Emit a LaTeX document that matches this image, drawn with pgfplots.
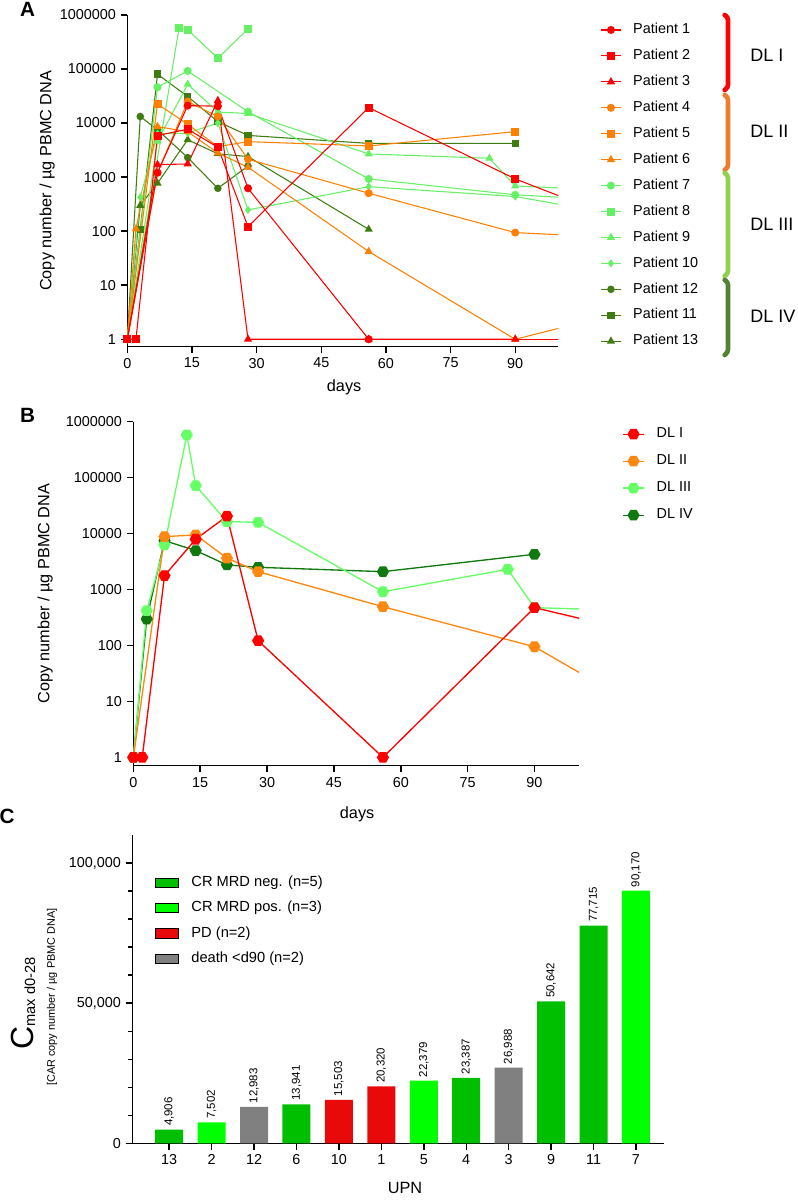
\documentclass[border=0pt]{standalone}
\usepackage{fontspec}
\setmainfont{Liberation Sans}
\usepackage{pgfplots}
\pgfplotsset{compat=1.18}

\definecolor{cRed}{RGB}{255,0,0}
\definecolor{cOra}{RGB}{255,128,0}
\definecolor{cLgr}{RGB}{102,240,102}
\definecolor{cDgr}{RGB}{63,125,18}
\definecolor{bRed}{RGB}{255,0,0}
\definecolor{bOra}{RGB}{255,136,17}
\definecolor{bLgr}{RGB}{102,255,102}
\definecolor{bDgr}{RGB}{15,120,15}
\definecolor{kI}{RGB}{255,0,0}
\definecolor{kII}{RGB}{237,125,49}
\definecolor{kIII}{RGB}{146,208,80}
\definecolor{kIV}{RGB}{84,130,53}
\definecolor{barNeg}{RGB}{0,190,0}
\definecolor{barPos}{RGB}{0,255,0}
\definecolor{barPD}{RGB}{232,10,10}
\definecolor{barDth}{RGB}{128,128,128}

\pgfdeclareplotmark{hexagon*}{%
  \pgfpathmoveto{\pgfpointpolar{0}{\pgfplotmarksize}}%
  \pgfpathlineto{\pgfpointpolar{60}{\pgfplotmarksize}}%
  \pgfpathlineto{\pgfpointpolar{120}{\pgfplotmarksize}}%
  \pgfpathlineto{\pgfpointpolar{180}{\pgfplotmarksize}}%
  \pgfpathlineto{\pgfpointpolar{240}{\pgfplotmarksize}}%
  \pgfpathlineto{\pgfpointpolar{300}{\pgfplotmarksize}}%
  \pgfpathclose
  \pgfusepathqfillstroke}

\pgfplotsset{
  myax/.style={
    scale only axis, anchor=south west, enlargelimits=false,
    axis x line*=bottom, axis y line*=left,
    axis line style={-, line width=1.1pt, black},
    tick align=outside, major tick length=5pt, minor tick length=3pt,
    major tick style={line width=1.1pt, black},
    minor tick style={line width=1.1pt, black},
    tick label style={font=\fontsize{10.8}{13}\selectfont},
    label style={font=\fontsize{12.2}{14}\selectfont},
  },
  pa/.style={color=#1, line width=0.8pt},
  pb/.style={color=#1, line width=1pt, mark=hexagon*, mark size=4pt},
}

\begin{document}
\begin{tikzpicture}
\useasboundingbox (0,0) rectangle (597.75pt,900pt);

% ---------------- A ----------------
\begin{axis}[myax, at={(95.5pt,640pt)}, width=323.25pt, height=248.8pt,
  ymode=log, xmin=0, xmax=100, ymin=0.73, ymax=1000000,
  yminorticks=false,
  xtick={0,15,30,45,60,75,90}, xticklabels={0,15,30,45,60,75,90},
  ytick={1,10,100,1000,10000,100000,1000000},
  yticklabels={1,10,100,1000,10000,100000,1000000},
  xlabel={days}, ylabel={Copy number / µg PBMC DNA},
  x label style={at={(axis description cs:0.503,-0.1215)}, anchor=center},
  y label style={at={(axis description cs:-0.186,0.5)}, anchor=center},
  reverse legend, legend cell align=left,
  legend image code/.code={\draw[mark repeat=2,mark phase=2,#1] plot coordinates {(0pt,0pt) (7.5pt,0pt) (15pt,0pt)};},
  legend style={at={(axis description cs:1.097,0.9755)}, anchor=north west,
    draw=none, fill=none, inner sep=0pt, font=\fontsize{10.8}{13}\selectfont,
    row sep=9.45pt, nodes={inner sep=0pt, text height=7.8pt, text depth=2.2pt},
    /tikz/every odd column/.append style={column sep=8.8pt}},
]
\addplot[pa=cDgr, mark=triangle*, mark size=2.8pt] coordinates {(0,1) (3,300) (7,770) (14,4900) (21,2700) (28,2400) (56,108)};
\addlegendentry{Patient 13}
\addplot[pa=cDgr, mark=square*, mark size=2.4pt] coordinates {(0,1) (3,108) (7,80000) (14,31000) (21,10600) (28,5900) (56,4200) (90,4200)};
\addlegendentry{Patient 11}
\addplot[pa=cDgr, mark=*, mark size=2.4pt] coordinates {(0,1) (3,13200) (7,7500) (14,2300) (21,620) (28,1600)};
\addlegendentry{Patient 12}
\addplot[pa=cLgr, mark=diamond*, mark size=2.4pt] coordinates {(0,1) (3,425) (7,6300) (14,6500) (21,10000) (28,247) (56,665) (90,437)};
\addlegendentry{Patient 10}
\addplot[pa=cLgr, forget plot] coordinates {(90,437) (120,166)};
\addplot[pa=cLgr, mark=triangle*, mark size=2.8pt] coordinates {(0,1) (7,4600) (14,52000) (21,16000) (28,15000) (56,2680) (84,2230) (90,686)};
\addlegendentry{Patient 9}
\addplot[pa=cLgr, forget plot] coordinates {(90,686) (120,535)};
\addplot[pa=cLgr, mark=square*, mark size=2.6pt] coordinates {(0,1) (12,570000) (14,530000) (21,158000) (28,550000)};
\addlegendentry{Patient 8}
\addplot[pa=cLgr, mark=*, mark size=2.6pt] coordinates {(0,1) (7,46000) (14,92000) (28,16200) (56,925) (90,470)};
\addlegendentry{Patient 7}
\addplot[pa=cLgr, forget plot] coordinates {(90,470) (120,347)};
\addplot[pa=cOra, mark=triangle*, mark size=2.8pt] coordinates {(0,1) (2,110) (7,8600) (14,6900) (21,2800) (28,1520) (56,42) (90,1)};
\addlegendentry{Patient 6}
\addplot[pa=cOra, forget plot] coordinates {(90,1) (120,4)};
\addplot[pa=cOra, mark=square*, mark size=2.6pt] coordinates {(0,1) (7,22500) (14,9500) (21,3650) (28,4530) (56,3770) (90,6930)};
\addlegendentry{Patient 5}
\addplot[pa=cOra, mark=*, mark size=2.6pt] coordinates {(0,1) (7,1200) (14,25000) (21,13200) (28,2140) (56,503) (90,94)};
\addlegendentry{Patient 4}
\addplot[pa=cOra, forget plot] coordinates {(90,94) (120,72)};
\addplot[pa=cRed, mark=triangle*, mark size=2.8pt] coordinates {(0,1) (7,1700) (14,1750) (21,26000) (28,1) (56,1) (90,1)};
\addlegendentry{Patient 3}
\addplot[pa=cRed, forget plot] coordinates {(90,1) (120,1)};
\addplot[pa=cRed, mark=square*, mark size=2.6pt] coordinates {(0,1) (2,1) (7,5870) (14,7700) (21,3560) (28,121) (56,19300) (90,925)};
\addlegendentry{Patient 2}
\addplot[pa=cRed, forget plot] coordinates {(90,925) (120,110)};
\addplot[pa=cRed, mark=*, mark size=2.6pt] coordinates {(0,1) (7,1210) (14,21000) (21,20500) (28,620) (56,1)};
\addlegendentry{Patient 1}
\end{axis}

% ---------------- B ----------------
\begin{axis}[myax, at={(100pt,325.7pt)}, width=334.3pt, height=258pt,
  ymode=log, xmin=0, xmax=100, ymin=0.71, ymax=1000000,
  yminorticks=false,
  xtick={0,15,30,45,60,75,90}, xticklabels={0,15,30,45,60,75,90},
  ytick={1,10,100,1000,10000,100000,1000000},
  yticklabels={1,10,100,1000,10000,100000,1000000},
  xlabel={days}, ylabel={Copy number / µg PBMC DNA},
  x label style={at={(axis description cs:0.502,-0.14)}, anchor=center},
  y label style={at={(axis description cs:-0.198,0.5)}, anchor=center},
  reverse legend, legend cell align=left,
  legend image code/.code={\draw[mark repeat=2,mark phase=2,#1] plot coordinates {(0pt,0pt) (7.9pt,0pt) (15.75pt,0pt)};},
  legend style={at={(axis description cs:1.0965,0.984)}, anchor=north west,
    draw=none, fill=none, inner sep=0pt, font=\fontsize{10.8}{13}\selectfont,
    row sep=10.25pt, nodes={inner sep=0pt, text height=7.8pt, text depth=2.2pt},
    /tikz/every odd column/.append style={column sep=9pt}},
]
\addplot[pb=bDgr] coordinates {(0,1) (3,298) (7,7500) (14,4970) (21,2760) (28,2500) (56,2090) (90,4270)};
\addlegendentry{DL IV}
\addplot[pb=bLgr] coordinates {(0,1) (3,420) (7,6270) (12,583000) (14,72000) (21,16400) (28,15900) (56,915) (84,2300) (90,475)};
\addlegendentry{DL III}
\addplot[color=bLgr, line width=1pt, forget plot] coordinates {(90,475) (120,405)};
\addplot[pb=bOra] coordinates {(0,1) (7,8840) (14,9480) (21,3640) (28,2090) (56,494) (90,95)};
\addlegendentry{DL II}
\addplot[color=bOra, line width=1pt, forget plot] coordinates {(90,95) (120,4)};
\addplot[pb=bRed] coordinates {(0,1) (2,1) (7,1780) (14,7940) (21,20500) (28,122) (56,1) (90,475)};
\addlegendentry{DL I}
\addplot[color=bRed, line width=1pt, forget plot] coordinates {(90,475) (120,129)};
\end{axis}

% ---------------- C ----------------
\begin{axis}[myax, at={(99.2pt,42.5pt)}, width=398.8pt, height=231.2pt,
  ybar, bar width=21pt, bar shift=0pt,
  xmin=-0.87, xmax=11.66, ymin=0, ymax=110000,
  xtick={0,...,11}, xticklabels={13,2,12,6,10,1,5,4,3,9,11,7},
  ytick={0,50000,100000}, yticklabels={0,{50,000},{100,000}},
  minor ytick={10000,20000,30000,40000,60000,70000,80000,90000},
  scaled y ticks=false,
  xlabel={UPN},
  x label style={at={(axis description cs:0.513,-0.145)}, anchor=center},
  nodes near coords, point meta=explicit symbolic,
  every node near coord/.append style={rotate=90, anchor=west, black,
    font=\fontsize{8.6}{10}\selectfont, inner sep=2.5pt},
  legend cell align=left,
  legend image code/.code={\draw[#1] (0pt,-3.4pt) rectangle (17.25pt,3.4pt);},
  legend style={at={(axis description cs:0.0427,0.869)}, anchor=north west,
    draw=none, fill=none, inner sep=0pt, font=\fontsize{11}{13}\selectfont,
    row sep=8.7pt, nodes={inner sep=0pt, text height=8pt, text depth=2.3pt},
    /tikz/every odd column/.append style={column sep=9.5pt}},
]
\addplot[fill=barNeg, draw=none] table[meta=lab] {
x y lab
0 4906 4,906
3 13941 13,941
7 23387 23,387
9 50642 50,642
10 77715 77,715
};
\addlegendentry{CR MRD neg. (n=5)}
\addplot[fill=barPos, draw=none] table[meta=lab] {
x y lab
1 7502 7,502
6 22379 22,379
11 90170 90,170
};
\addlegendentry{CR MRD pos. (n=3)}
\addplot[fill=barPD, draw=none] table[meta=lab] {
x y lab
4 15503 15,503
5 20320 20,320
};
\addlegendentry{PD (n=2)}
\addplot[fill=barDth, draw=none] table[meta=lab] {
x y lab
2 12983 12,983
8 26988 26,988
};
\addlegendentry{death <d90 (n=2)}
\end{axis}

% y label of C
\node[rotate=90, anchor=base west, inner sep=0pt] at (24.75pt,112.5pt)
  {\fontsize{24}{24}\selectfont C\raisebox{-1.5pt}{\fontsize{11}{11}\selectfont max d0-28}};
\node[rotate=90, anchor=center, inner sep=0pt, font=\fontsize{8.2}{10}\selectfont] at (39pt,152.25pt)
  {[CAR copy number / µg PBMC DNA]};

% dose level brackets of A
\begin{scope}[line width=3.5pt, line cap=round, rounded corners=2pt]
\draw[kI]   (543.5pt,888.75pt) -- (546pt,887pt) -- (546pt,834.5pt) -- (543.5pt,832.5pt);
\draw[kII]  (543.5pt,828.75pt) -- (546pt,827pt) -- (546pt,774.5pt) -- (543.5pt,772.5pt);
\draw[kIII] (543.5pt,770.25pt) -- (546pt,768.5pt) -- (546pt,695pt) -- (543.5pt,693pt);
\draw[kIV]  (543.5pt,690pt) -- (546pt,688.25pt) -- (546pt,636pt) -- (543.5pt,633.75pt);
\end{scope}
\begin{scope}[font=\fontsize{13.5}{16}\selectfont, anchor=west, inner sep=0pt]
\node at (562.5pt,858.75pt) {DL I};
\node at (562.5pt,801.2pt) {DL II};
\node at (562.5pt,732pt) {DL III};
\node at (562.5pt,663pt) {DL IV};
\end{scope}

% panel letters
\begin{scope}[font=\fontsize{15.5}{17}\selectfont\bfseries, inner sep=0pt]
\node at (20.6pt,893.2pt) {A};
\node at (20.6pt,588.4pt) {B};
\node at (5.3pt,288pt) {C};
\end{scope}
\end{tikzpicture}
\end{document}
